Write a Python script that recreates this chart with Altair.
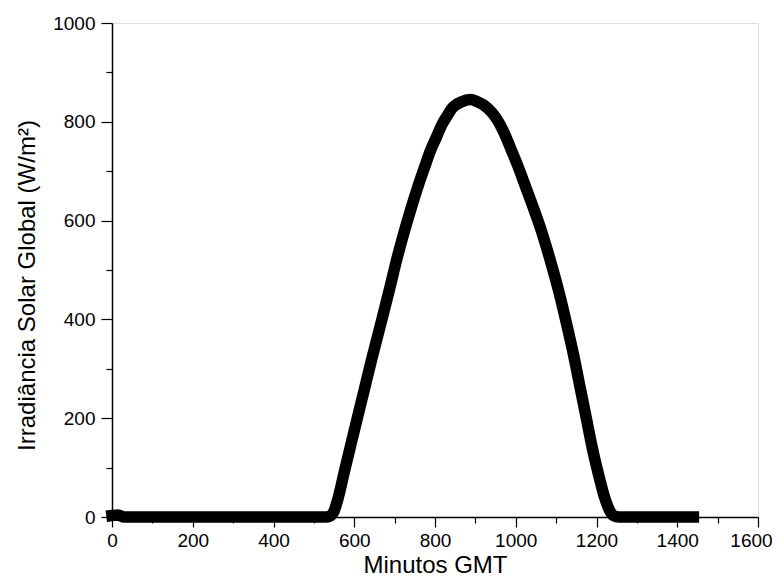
import altair as alt
import pandas as pd

minutos = [0, 15, 30, 60, 120, 200, 300, 400, 500, 530, 540, 550, 560, 575, 600,
           624, 645, 666, 687, 707, 724, 742, 759, 775, 788, 803, 817, 830, 842,
           865, 887, 904, 930, 952, 970, 988, 1005, 1021, 1040, 1062, 1085, 1108,
           1125, 1144, 1160, 1176, 1190, 1205, 1220, 1232, 1242, 1255, 1300, 1350,
           1400, 1440]
irradiancia = [3, 4, 0, 0, 0, 0, 0, 0, 0, 0, 2, 12, 38, 90, 175,
               255, 325, 392, 460, 527, 578, 628, 672, 710, 740, 768, 794, 812, 827,
               840, 845, 841, 828, 807, 780, 745, 711, 676, 634, 583, 521, 452,
               394, 325, 260, 195, 138, 86, 40, 14, 3, 0, 0, 0,
               0, 0]

x_ticks = list(range(0, 1601, 100))
y_ticks = list(range(0, 1001, 100))

df = pd.DataFrame({"Minutos": minutos, "Irradiancia": irradiancia})

font = "Liberation Sans"

chart = alt.Chart(df).mark_line(
    color="black", strokeWidth=11.5, strokeCap="square", strokeJoin="round",
    interpolate="monotone", clip=False
).encode(
    x=alt.X("Minutos:Q",
            scale=alt.Scale(domain=[0, 1600], nice=False, zero=False),
            axis=alt.Axis(
                title="Minutos GMT",
                values=x_ticks,
                labelExpr="datum.value % 200 == 0 ? datum.label : ''",
                format="d",
                grid=False,
                labelFlush=False,
                labelOffset={"condition": {"test": "datum.value == 1600", "value": -7}, "value": 0},
                tickSize={"condition": {"test": "datum.value % 200 != 0", "value": 6}, "value": 10},
                tickColor="black", tickWidth=1.2,
                domainColor="black", domainWidth=1.5,
                labelFont=font, labelFontSize=19, labelColor="black", labelPadding=4,
                titleFont=font, titleFontSize=24, titleFontWeight="normal", titleColor="black",
                titlePadding=3,
            )),
    y=alt.Y("Irradiancia:Q",
            scale=alt.Scale(domain=[0, 1000], nice=False, zero=False),
            axis=alt.Axis(
                title="Irradiância Solar Global (W/m²)",
                values=y_ticks,
                labelExpr="datum.value % 200 == 0 ? datum.label : ''",
                format="d",
                grid=False,
                labelFlush=False,
                tickSize={"condition": {"test": "datum.value % 200 != 0", "value": 6}, "value": 11},
                tickColor="black", tickWidth=1.2,
                domainColor="black", domainWidth=1.5,
                labelFont=font, labelFontSize=19, labelColor="black", labelPadding=6,
                titleFont=font, titleFontSize=24, titleFontWeight="normal", titleColor="black",
                titlePadding=13, titleY=262,
            )),
).properties(
    width=646, height=494,
    padding={"left": 104, "top": 15, "right": 15, "bottom": 61},
    autosize=alt.AutoSizeParams(type="none"),
).configure_view(
    stroke="black", strokeWidth=1.5
).configure(background="white")

chart.save("out.html", embed_options={"renderer": "svg", "actions": False})
